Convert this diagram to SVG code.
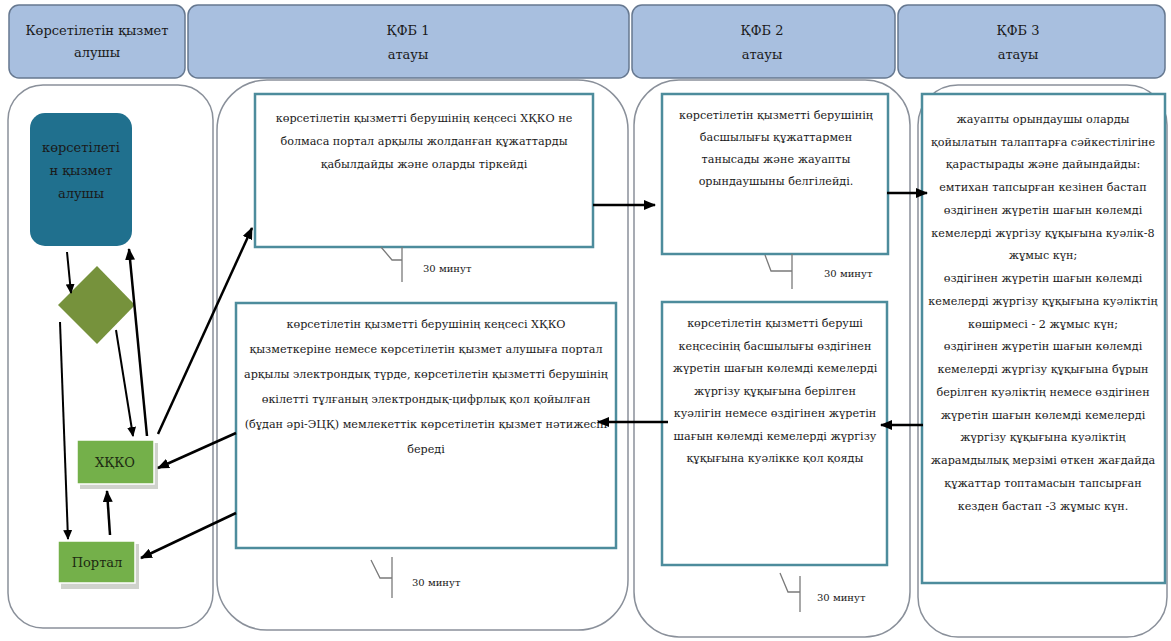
<svg xmlns="http://www.w3.org/2000/svg" width="1171" height="641" viewBox="0 0 1171 641">
<style>
  .hdr { fill: #a8bfdf; stroke: #667890; stroke-width: 1.5; }
  .lane { fill: #ffffff; stroke: #8a909a; stroke-width: 1.5; }
  .box { fill: #ffffff; stroke: #4d8c9c; stroke-width: 2.5; }
  .t, .th, .tm, .tg { font-family: "DejaVu Serif", "Liberation Serif", serif; fill: #1a1a1a; }
  .t { font-size: 11.2px; text-anchor: middle; }
  .th { font-size: 13px; text-anchor: middle; }
  .tm { font-size: 10px; }
  .tg { font-size: 13px; fill: #1d2a12; text-anchor: middle; }
  .green { fill: #74b04a; stroke: #ffffff; stroke-width: 1.5; }
  .shadow { fill: #cfd2cc; }
  .call { fill: none; stroke: #7a7a7a; stroke-width: 1.3; }
  .arr { fill: none; stroke: #000000; stroke-width: 2.5; marker-end: url(#ah); }
  .arr2 { fill: none; stroke: #000000; stroke-width: 2; marker-end: url(#ah2); }
</style>
<defs>
  <marker id="ah" markerUnits="userSpaceOnUse" markerWidth="12" markerHeight="10" refX="11" refY="5" orient="auto">
    <path d="M0,0 L12,5 L0,10 z" fill="#000000"/>
  </marker>
  <marker id="ah2" markerUnits="userSpaceOnUse" markerWidth="10" markerHeight="9" refX="9" refY="4.5" orient="auto">
    <path d="M0,0 L10,4.5 L0,9 z" fill="#000000"/>
  </marker>
</defs>
<rect width="1171" height="641" fill="#ffffff"/>

<g id="headers">
  <g id="hdr1"><rect class="hdr" x="9" y="5" width="176" height="73" rx="10"/>
    <text class="th" x="97" y="35">Көрсетілетін қызмет</text><text class="th" x="97" y="57">алушы</text></g>
  <g id="hdr2"><rect class="hdr" x="188" y="5" width="441" height="73" rx="10"/>
    <text class="th" x="408" y="35">ҚФБ 1</text><text class="th" x="408" y="59">атауы</text></g>
  <g id="hdr3"><rect class="hdr" x="632" y="5" width="263" height="73" rx="10"/>
    <text class="th" x="762" y="35">ҚФБ 2</text><text class="th" x="762" y="59">атауы</text></g>
  <g id="hdr4"><rect class="hdr" x="898" y="5" width="267" height="73" rx="10"/>
    <text class="th" x="1018" y="35">ҚФБ 3</text><text class="th" x="1018" y="59">атауы</text></g>
</g>

<g id="lanes">
  <rect id="lane1" class="lane" x="8" y="85" width="205" height="543" rx="35"/>
  <rect id="lane2" class="lane" x="217" y="80" width="411" height="550" rx="50"/>
  <rect id="lane3" class="lane" x="634" y="80" width="276" height="557" rx="45"/>
  <rect id="lane4" class="lane" x="918" y="85" width="249" height="552" rx="40"/>
</g>

<g id="recipient">
  <rect x="30" y="113" width="102" height="133" rx="15" fill="#20708e"/>
  <text class="t" x="81" y="152" style="font-size:13px">көрсетілеті</text>
  <text class="t" x="81" y="175" style="font-size:13px">н қызмет</text>
  <text class="t" x="81" y="198" style="font-size:13px">алушы</text>
</g>

<g id="decision">
  <polygon points="58,305 97,266 135,305 97,344" fill="#76923c"/>
</g>

<g id="hkko">
  <rect class="shadow" x="80" y="443" width="78" height="46"/>
  <rect class="green" x="77" y="440" width="77" height="44"/>
  <text class="tg" x="115" y="467">ХҚКО</text>
</g>

<g id="portal">
  <rect class="shadow" x="61" y="544" width="78" height="45"/>
  <rect class="green" x="58" y="541" width="77" height="42"/>
  <text class="tg" x="97" y="567">Портал</text>
</g>

<g id="boxA">
  <rect class="box" x="255" y="94" width="338" height="153"/>
  <text class="t" x="424" y="122">көрсетілетін қызметті берушінің кеңсесі ХҚКО не</text>
  <text class="t" x="424" y="145">болмаса портал арқылы жолданған құжаттарды</text>
  <text class="t" x="424" y="168">қабылдайды және оларды тіркейді</text>
</g>

<g id="boxB">
  <rect class="box" x="236" y="303" width="380" height="245"/>
  <text class="t" x="426" y="328">көрсетілетін қызметті берушінің кеңсесі ХҚКО</text>
  <text class="t" x="426" y="353">қызметкеріне немесе көрсетілетін қызмет алушыға портал</text>
  <text class="t" x="426" y="378">арқылы электрондық түрде, көрсетілетін қызметті берушінің</text>
  <text class="t" x="426" y="403">өкілетті тұлғаның электрондық-цифрлық қол қойылған</text>
  <text class="t" x="426" y="428">(бұдан әрі-ЭЦҚ) мемлекеттік көрсетілетін қызмет нәтижесін</text>
  <text class="t" x="426" y="453">береді</text>
</g>

<g id="boxC">
  <rect class="box" x="662" y="94" width="226" height="160"/>
  <text class="t" x="776" y="119">көрсетілетін қызметті берушінің</text>
  <text class="t" x="776" y="141">басшылығы құжаттармен</text>
  <text class="t" x="776" y="163">танысады және жауапты</text>
  <text class="t" x="776" y="185">орындаушыны белгілейді.</text>
</g>

<g id="boxD">
  <rect class="box" x="662" y="302" width="225" height="263"/>
  <text class="t" x="775" y="327">көрсетілетін қызметті беруші</text>
  <text class="t" x="775" y="350">кеңсесінің басшылығы  өздігінен</text>
  <text class="t" x="775" y="372">жүретін шағын көлемді кемелерді</text>
  <text class="t" x="775" y="395">жүргізу құқығына берілген</text>
  <text class="t" x="775" y="417">куәлігін немесе өздігінен жүретін</text>
  <text class="t" x="775" y="440">шағын көлемді кемелерді жүргізу</text>
  <text class="t" x="775" y="462">құқығына куәлікке қол қояды</text>
</g>

<g id="boxE">
  <rect class="box" x="922" y="94" width="243" height="489"/>
  <text class="t" x="1043" y="123">жауапты орындаушы оларды</text>
  <text class="t" x="1043" y="146">қойылатын талаптарға сәйкестілігіне</text>
  <text class="t" x="1043" y="168">қарастырады және дайындайды:</text>
  <text class="t" x="1043" y="191">емтихан тапсырған кезінен бастап</text>
  <text class="t" x="1043" y="214">өздігінен жүретін шағын көлемді</text>
  <text class="t" x="1043" y="237">кемелерді жүргізу құқығына куәлік-8</text>
  <text class="t" x="1043" y="259">жұмыс күн;</text>
  <text class="t" x="1043" y="282">өздігінен жүретін шағын көлемді</text>
  <text class="t" x="1043" y="305">кемелерді жүргізу құқығына куәліктің</text>
  <text class="t" x="1043" y="328">көшірмесі - 2 жұмыс күн;</text>
  <text class="t" x="1043" y="350">өздігінен жүретін шағын көлемді</text>
  <text class="t" x="1043" y="373">кемелерді жүргізу құқығына бұрын</text>
  <text class="t" x="1043" y="396">берілген куәліктің немесе  өздігінен</text>
  <text class="t" x="1043" y="419">жүретін шағын көлемді кемелерді</text>
  <text class="t" x="1043" y="441">жүргізу құқығына куәліктің</text>
  <text class="t" x="1043" y="464">жарамдылық мерзімі өткен жағдайда</text>
  <text class="t" x="1043" y="487">құжаттар топтамасын тапсырған</text>
  <text class="t" x="1043" y="510">кезден бастап -3 жұмыс күн.</text>
</g>

<g id="timings">
  <g id="timeA"><path class="call" d="M381,247 L392,260 L402,260 M402,247 L402,282"/><text class="tm" x="423" y="272">30 минут</text></g>
  <g id="timeB"><path class="call" d="M371,560 L380,578 L392,578 M392,557 L392,598"/><text class="tm" x="412" y="586">30 минут</text></g>
  <g id="timeC"><path class="call" d="M765,255 L771,271 L792,271 M792,254 L792,289"/><text class="tm" x="824" y="277">30 минут</text></g>
  <g id="timeD"><path class="call" d="M780,573 L788,592 L800,592 M800,576 L800,612"/><text class="tm" x="817" y="601">30 минут</text></g>
</g>

<g id="connectors">
  <path class="arr2" d="M67,252 L71,293"/>
  <path class="arr2" d="M116,330 L133,436"/>
  <path class="arr" d="M147,436 L129,249"/>
  <path class="arr" d="M158,434 L252,228"/>
  <path class="arr2" d="M60,322 L68,539"/>
  <path class="arr" d="M110,535 L107,491"/>
  <path class="arr" d="M236,433 L158,468"/>
  <path class="arr" d="M236,513 L141,558"/>
  <path class="arr" d="M593,205 L655,205"/>
  <path class="arr" d="M887,193 L927,193"/>
  <path class="arr" d="M923,425 L881,425"/>
  <path class="arr" d="M668,422 L598,422"/>
</g>
</svg>
